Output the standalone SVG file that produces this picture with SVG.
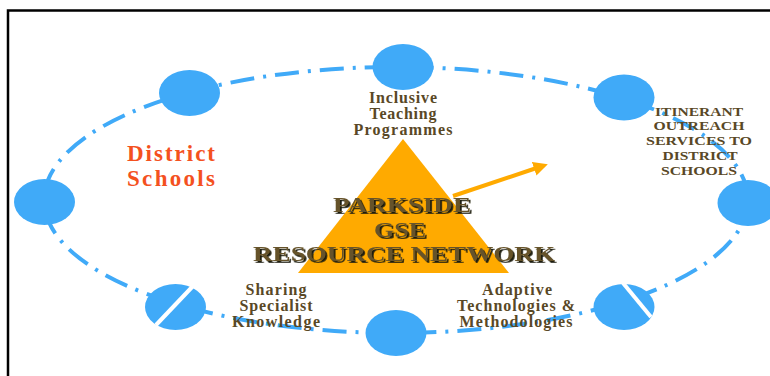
<svg xmlns="http://www.w3.org/2000/svg" width="770" height="376" viewBox="0 0 770 376">
  <style>
    .node { fill: #40AAF8; }
    .cut { stroke: #ffffff; stroke-width: 4; }
    .ring { fill: none; stroke: #40AAF8; stroke-width: 4; stroke-dasharray: 24 9 3 9; }
    .lbl { font-family: "Liberation Serif", "Times New Roman", serif; font-weight: bold; font-size: 16px; fill: #594826; text-anchor: middle; }
    .caps { font-size: 12.8px; }
    .red { font-family: "Liberation Serif", "Times New Roman", serif; font-weight: bold; font-size: 23px; fill: #F4511E; }
    .title { font-family: "Liberation Serif", "Times New Roman", serif; font-weight: bold; font-size: 22px; text-anchor: middle; fill: #66532a; filter: url(#shade); }
  </style>
  <defs>
    <marker id="head" viewBox="0 0 10 10" refX="5" refY="5" markerWidth="3.6" markerHeight="3.6" orient="auto" markerUnits="strokeWidth">
      <path d="M0,0 L10,5 L0,10 Z" fill="#FFAA00"/>
    </marker>
    <filter id="shade" x="-10%" y="-30%" width="120%" height="160%">
      <feDropShadow dx="1.8" dy="1.8" stdDeviation="0" flood-color="#1e1a10" flood-opacity="1"/>
    </filter>
  </defs>

  <rect width="770" height="376" fill="#ffffff"/>
  <rect x="8" y="10.5" width="900" height="500" fill="none" stroke="#000000" stroke-width="2.5"/>

  <!-- connectors -->
  <g id="connectors">
    <ellipse class="ring" cx="396" cy="200" rx="352" ry="133"/>
    <line x1="453" y1="196" x2="541" y2="166.5" stroke="#FFAA00" stroke-width="4" marker-end="url(#head)"/>
  </g>

  <!-- hub -->
  <g id="hub">
    <polygon points="403,139 509,273 298,273" fill="#FFAA00"/>
    <g class="title">
      <text x="402" y="212" textLength="138" lengthAdjust="spacingAndGlyphs">PARKSIDE</text>
      <text x="400" y="237" textLength="52" lengthAdjust="spacingAndGlyphs">GSE</text>
      <text x="404" y="261" textLength="302" lengthAdjust="spacingAndGlyphs">RESOURCE NETWORK</text>
    </g>
  </g>

  <g id="node-top"><ellipse class="node" cx="403" cy="67" rx="30.5" ry="23"/></g>
  <g id="node-top-left"><ellipse class="node" cx="189.5" cy="93" rx="30.5" ry="23"/></g>
  <g id="node-top-right"><ellipse class="node" cx="624" cy="97.5" rx="30.5" ry="23"/></g>
  <g id="node-left"><ellipse class="node" cx="44.5" cy="202" rx="30.5" ry="23"/></g>
  <g id="node-right"><ellipse class="node" cx="748" cy="203" rx="30.5" ry="23"/></g>
  <g id="node-bottom"><ellipse class="node" cx="396" cy="333" rx="30.5" ry="23"/></g>
  <g id="node-bottom-left">
    <ellipse class="node" cx="175.5" cy="307" rx="30.5" ry="23"/>
    <line class="cut" x1="156" y1="325" x2="194" y2="285"/>
  </g>
  <g id="node-bottom-right">
    <ellipse class="node" cx="624" cy="307" rx="30.5" ry="23"/>
    <line class="cut" x1="623" y1="283" x2="651" y2="317"/>
  </g>

  <!-- labels -->
  <g id="label-inclusive" class="lbl">
    <text x="403" y="103" textLength="68">Inclusive</text>
    <text x="403" y="119" textLength="67">Teaching</text>
    <text x="403" y="135" textLength="99">Programmes</text>
  </g>
  <g id="label-itinerant" class="lbl caps">
    <text x="699" y="115.5" textLength="88" lengthAdjust="spacingAndGlyphs">ITINERANT</text>
    <text x="699" y="130.3" textLength="91" lengthAdjust="spacingAndGlyphs">OUTREACH</text>
    <text x="699" y="145.1" textLength="106" lengthAdjust="spacingAndGlyphs">SERVICES TO</text>
    <text x="700" y="159.9" textLength="75" lengthAdjust="spacingAndGlyphs">DISTRICT</text>
    <text x="699" y="174.7" textLength="76" lengthAdjust="spacingAndGlyphs">SCHOOLS</text>
  </g>
  <g id="label-district" class="red">
    <text x="127" y="161" textLength="88">District</text>
    <text x="127" y="186" textLength="88">Schools</text>
  </g>
  <g id="label-sharing" class="lbl">
    <text x="276" y="295" textLength="61">Sharing</text>
    <text x="276" y="311" textLength="73">Specialist</text>
    <text x="276" y="327" textLength="88">Knowledge</text>
  </g>
  <g id="label-adaptive" class="lbl">
    <text x="517" y="295" textLength="70">Adaptive</text>
    <text x="516" y="311" textLength="118">Technologies &amp;</text>
    <text x="516" y="327" textLength="113">Methodologies</text>
  </g>
</svg>
